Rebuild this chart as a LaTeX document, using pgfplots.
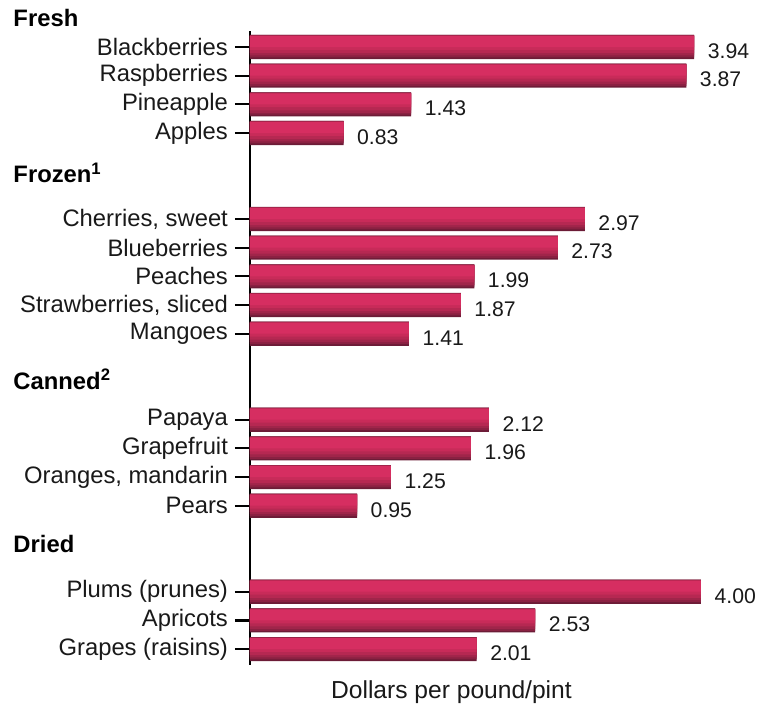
\documentclass[border=0pt]{standalone}
\usepackage{pgfplots}
\pgfplotsset{compat=1.18}
\usepackage{pgfplotstable}
\usepackage{fontspec}
\setmainfont{Liberation Sans}
\definecolor{barA}{RGB}{108,28,55}
\definecolor{barB}{RGB}{138,33,66}
\definecolor{barC}{RGB}{160,37,74}
\definecolor{barD}{RGB}{182,40,82}
\definecolor{barE}{RGB}{200,43,89}
\definecolor{barF}{RGB}{214,46,97}
\pgfplotstableread{
val row
3.94 0
3.87 1
1.43 2
0.83 3
2.97 6
2.73 7
1.99 8
1.87 9
1.41 10
2.12 13
1.96 14
1.25 15
0.95 16
4.00 19
2.53 20
2.01 21
}\prices
\begin{document}
\begin{tikzpicture}
\begin{axis}[
  x=56.375pt, y=14.335pt, y dir=reverse,
  xmin=0, xmax=4.497, ymin=-0.55, ymax=21.55,
  axis x line=none, axis y line=left,
  y axis line style={-, line width=1.1pt, black},
  clip=false,
  ytick={0,1,2,3,6,7,8,9,10,13,14,15,16,19,20,21},
  yticklabels={Blackberries,Raspberries,Pineapple,Apples,{Cherries, sweet},Blueberries,Peaches,{Strawberries, sliced},Mangoes,Papaya,Grapefruit,{Oranges, mandarin},Pears,{Plums (prunes)},Apricots,{Grapes (raisins)}},
  tick align=outside, major tick length=7.5pt,
  ytick style={line width=1.1pt, black},
  yticklabel style={font=\fontsize{11.9}{14}\selectfont, text=black!90},
  /pgf/number format/assume math mode=true,
]
\addplot[xbar, bar width=0.84, bar shift=0, draw=none, fill=barA,
  point meta=x,
  nodes near coords={\pgfmathprintnumber[fixed,fixed zerofill,precision=2]{\pgfplotspointmeta}},
  every node near coord/.append style={font=\fontsize{10.6}{13}\selectfont, text=black!90, xshift=3.3pt, yshift=-2pt}]
  table[x=val, y=row] {\prices};
\addplot[xbar, bar width=0.781, bar shift=-0.029, draw=none, fill=barB] table[x=val, y=row] {\prices};
\addplot[xbar, bar width=0.697, bar shift=-0.055, draw=none, fill=barC] table[x=val, y=row] {\prices};
\addplot[xbar, bar width=0.605, bar shift=-0.092, draw=none, fill=barD] table[x=val, y=row] {\prices};
\addplot[xbar, bar width=0.487, bar shift=-0.143, draw=none, fill=barE] table[x=val, y=row] {\prices};
\addplot[xbar, bar width=0.378, bar shift=-0.189, draw=none, fill=barF] table[x=val, y=row] {\prices};
\node[anchor=west, font=\fontsize{11.9}{14}\selectfont\bfseries] at (axis cs:-2.16,-1.01) {Fresh};
\node[anchor=west, font=\fontsize{11.9}{14}\selectfont\bfseries] at (axis cs:-2.16,4.39) {Frozen\textsuperscript{1}};
\node[anchor=west, font=\fontsize{11.9}{14}\selectfont\bfseries] at (axis cs:-2.16,11.6) {Canned\textsuperscript{2}};
\node[anchor=west, font=\fontsize{11.9}{14}\selectfont\bfseries] at (axis cs:-2.16,17.35) {Dried};
\node[font=\fontsize{12.3}{14}\selectfont, text=black!90] at (axis cs:1.787,22.5) {Dollars per pound/pint};
\coordinate (bbnw) at (axis cs:-2.217,-1.64);
\coordinate (bbse) at (axis cs:4.497,23.07);
\end{axis}
\pgfresetboundingbox
\path[use as bounding box] (bbnw) rectangle (bbse);
\end{tikzpicture}
\end{document}
